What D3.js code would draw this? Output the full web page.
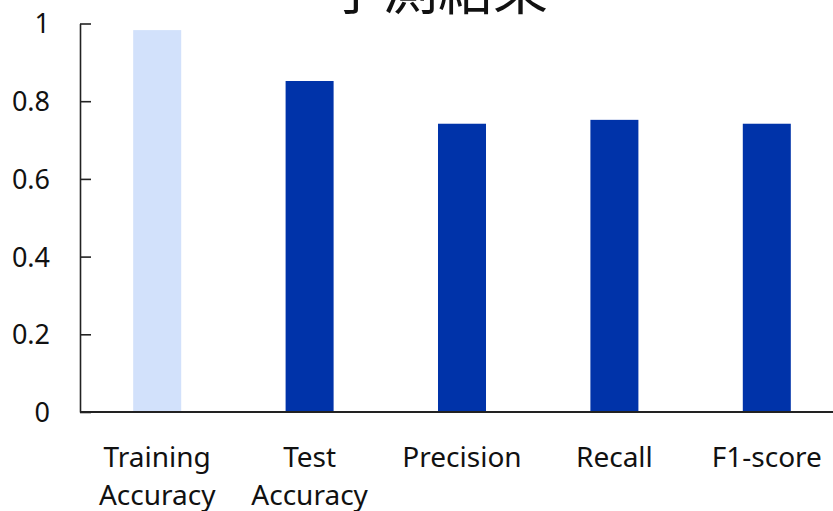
<!DOCTYPE html>
<html><head><meta charset="utf-8">
<script src="https://cdn.jsdelivr.net/npm/d3@7"></script>
<style>body{margin:0;background:#fff}svg{display:block}text{font-family:"Noto Sans","Noto Sans CJK JP",sans-serif;fill:#111}</style>
</head><body>
<svg id="c" width="833" height="511"></svg>
<script>
const categories = [["Training","Accuracy"],["Test","Accuracy"],["Precision"],["Recall"],["F1-score"]];
const values = [0.983, 0.852, 0.742, 0.752, 0.742];
const barColors = ["#d2e1fb","#0033a9","#0033a9","#0033a9","#0033a9"];
const yTicks = [0, 0.2, 0.4, 0.6, 0.8, 1];
const yTickLabels = ["0","0.2","0.4","0.6","0.8","1"];
const title = "予測結果";

const svg = d3.select("#c");
const x = d3.scaleBand().domain(d3.range(categories.length)).range([81, 843]).paddingInner(0.685).paddingOuter(0.3425);
const y = d3.scaleLinear().domain([0, 1]).range([412, 23.5]);

svg.append("g").selectAll("rect").data(values).join("rect")
  .attr("x", (d,i) => x(i)).attr("width", x.bandwidth())
  .attr("y", d => y(d)).attr("height", d => y(0) - y(d))
  .attr("fill", (d,i) => barColors[i]);

const yAxis = svg.append("g").attr("transform","translate(80,0)")
  .call(d3.axisRight(y).tickValues(yTicks).tickFormat((d,i)=>yTickLabels[i]).tickSize(11).tickSizeOuter(0));
yAxis.select(".domain").attr("stroke","#222").attr("stroke-width",1.6);
yAxis.selectAll(".tick line").attr("stroke","#222").attr("stroke-width",1.6);
yAxis.selectAll(".tick text").attr("x",-30).attr("text-anchor","end").attr("dy","0.35em")
  .style("font-size","27px").style("font-family",'"Noto Sans",sans-serif').attr("fill","#111");

svg.append("line").attr("x1",80).attr("x2",833).attr("y1",y(0)).attr("y2",y(0))
  .attr("stroke","#222").attr("stroke-width",2);

const xl = svg.append("g").selectAll("text").data(categories).join("text")
  .attr("text-anchor","middle").style("font-size","28px")
  .attr("transform",(d,i)=>`translate(${x(i)+x.bandwidth()/2},467)`);
xl.selectAll("tspan").data(d=>d).join("tspan").attr("x",0).attr("y",(d,j)=>j*38).text(d=>d);

svg.append("text").attr("x",438).attr("y",9).attr("text-anchor","middle")
  .style("font-size","55px").style("font-family",'"Noto Sans CJK JP",sans-serif').text(title);
</script>
</body></html>
